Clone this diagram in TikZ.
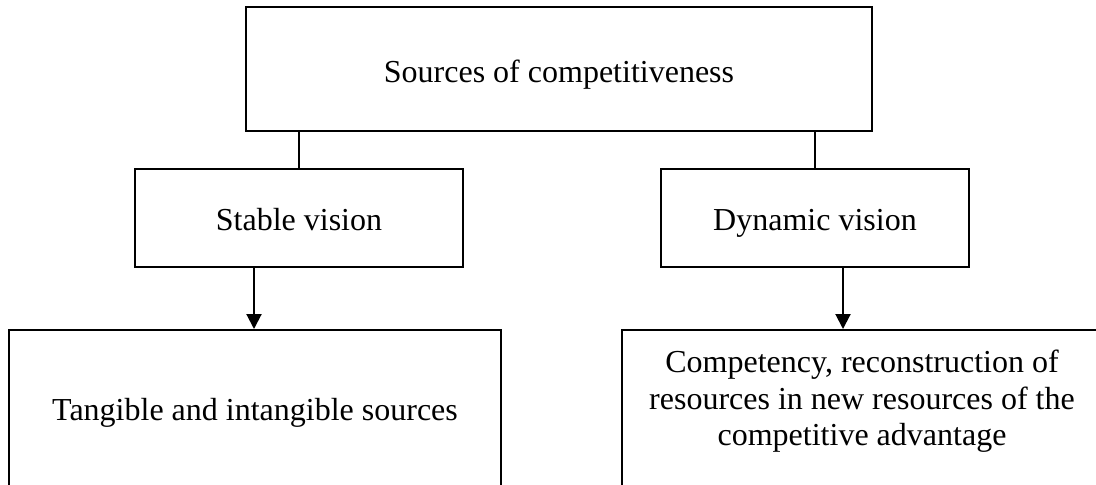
\documentclass[tikz,border=0pt]{standalone}
\usepackage{fontspec}
\setmainfont{Liberation Serif}
\usetikzlibrary{arrows.meta}
\begin{document}
\begin{tikzpicture}[x=0.5pt,y=-0.5pt,
  box/.style={draw,line width=1pt,inner sep=0pt,font=\fontsize{16}{18.25}\selectfont},
  txt/.style={inner sep=0pt,align=center,font=\fontsize{16}{18.25}\selectfont},
  link/.style={line width=1pt},
  arrowlink/.style={line width=1pt,-{Triangle[length=7.5pt,width=7.5pt]}}]
\useasboundingbox (0,0) rectangle (1096,484);
\clip (0,0) rectangle (1096,484);

% boxes
\node[box, minimum width=313pt, text height=37.5pt, text depth=24.5pt] (top) at (559,69) {Sources of competitiveness};
\node[box, minimum width=164pt, text height=30.5pt, text depth=18.5pt] (stable) at (299,218) {Stable vision};
\node[box, minimum width=154pt, text height=30.5pt, text depth=18.5pt] (dynamic) at (815,218) {Dynamic vision};
\node[box, minimum width=246pt, text height=45pt, text depth=70pt] (tangible) at (255,445) {Tangible and intangible sources};
\node[box, minimum width=240pt, minimum height=115pt] (comp) at (862,445) {};
\node[txt] (compText) at (862,401.5) {Competency, reconstruction of\\resources in new resources of the\\competitive advantage};

% connectors
\draw[link] (top.south -| stable.north) -- (stable.north);
\draw[link] (top.south -| dynamic.north) -- (dynamic.north);
\draw[arrowlink] ([xshift=-22.5pt]stable.south) -- ([xshift=-22.5pt]stable.south |- tangible.north);
\draw[arrowlink] ([xshift=14pt]dynamic.south) -- ([xshift=14pt]dynamic.south |- comp.north);
\end{tikzpicture}
\end{document}
